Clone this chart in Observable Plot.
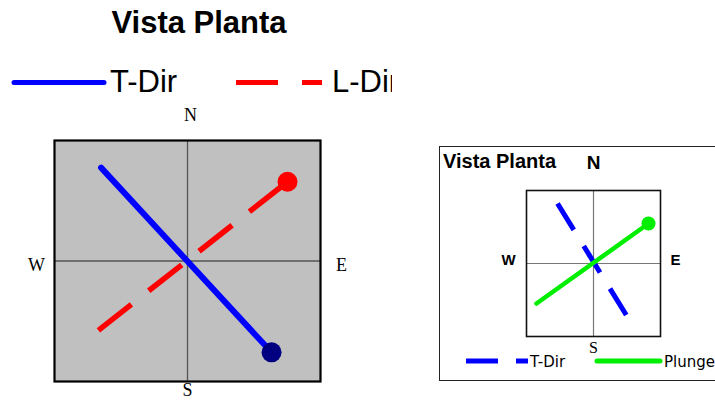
<!DOCTYPE html>
<html>
<head>
<meta charset="utf-8">
<script src="https://cdn.jsdelivr.net/npm/d3@7"></script>
<script src="https://cdn.jsdelivr.net/npm/@observablehq/plot@0.6"></script>
<style>
  html, body { margin: 0; padding: 0; background: #fff; }
  body { width: 715px; height: 400px; overflow: hidden; position: relative; font-family: "Liberation Sans", Arial, sans-serif; }
  .abs { position: absolute; }
  #insetBox { left: 439px; top: 146px; width: 300px; height: 235px; border: 1.5px solid #222; box-sizing: border-box; }
</style>
</head>
<body>
<svg id="leftHead" class="abs" style="left:0;top:0" width="400" height="100"></svg>
<div id="leftPlot" class="abs" style="left:0;top:100px"></div>
<div id="insetBox" class="abs"></div>
<svg id="insetHead" class="abs" style="left:0;top:0" width="715" height="400"></svg>
<div id="insetPlot" class="abs" style="left:480px;top:140px"></div>
<script>
// ---------- data ----------
const titleText = "Vista Planta";
const compassLabels = ["N", "S", "E", "W"];

// main plan view (unit axes: x = W..E, y = S..N)
const mainSeries = ["T-Dir", "L-Dir"];
const mainStartX = [-0.65, -0.67];
const mainStartY = [0.775, -0.575];
const mainEndX   = [0.632, 0.752];
const mainEndY   = [-0.758, 0.658];
const mainEndDot = [true, true];

// inset plan view
const insetSeries = ["T-Dir", "Plunge"];
const insetStartX = [-0.537, -0.851];
const insetStartY = [0.822, -0.548];
const insetEndX   = [0.493, 0.821];
const insetEndY   = [-0.712, 0.548];
const insetEndDot = [false, true];

// ---------- styles ----------
const mainStyle = {
  "T-Dir": {stroke: "#0000ff", dash: null, width: 6, cap: "round", dot: "#000080"},
  "L-Dir": {stroke: "#ff0000", dash: "42,22", width: 5.5, cap: "butt", dot: "#ff0000"}
};
const insetStyle = {
  "T-Dir": {stroke: "#0000ff", dash: "31,19", width: 5, cap: "butt", dot: "#0000ff"},
  "Plunge": {stroke: "#00ee00", dash: null, width: 4.5, cap: "round", dot: "#00ee00"}
};

const mainData = mainSeries.map((s, i) => ({s, x1: mainStartX[i], y1: mainStartY[i], x2: mainEndX[i], y2: mainEndY[i], dot: mainEndDot[i]}));
const insetData = insetSeries.map((s, i) => ({s, x1: insetStartX[i], y1: insetStartY[i], x2: insetEndX[i], y2: insetEndY[i], dot: insetEndDot[i]}));

function seriesMarks(data, style, r) {
  const marks = [];
  for (const d of data) {
    const st = style[d.s];
    marks.push(Plot.link([d], {x1: "x1", y1: "y1", x2: "x2", y2: "y2", stroke: st.stroke, strokeWidth: st.width,
      strokeDasharray: st.dash || undefined, strokeLinecap: st.cap}));
  }
  for (const d of data) {
    if (d.dot) marks.push(Plot.dot([d], {x: "x2", y: "y2", r, fill: style[d.s].dot, stroke: "none"}));
  }
  return marks;
}

function compassMarks(pos, fonts) {
  return compassLabels.map(l => Plot.text([l], {
    text: d => d, frameAnchor: pos[l].anchor, dx: pos[l].dx, dy: pos[l].dy,
    textAnchor: "middle", lineAnchor: "middle", fill: "#000", ...fonts[l]
  }));
}

// ---------- main plot ----------
const mainPos = {
  N: {anchor: "top", dx: 3, dy: -25},
  S: {anchor: "bottom", dx: 0, dy: 9},
  E: {anchor: "right", dx: 21, dy: 4},
  W: {anchor: "left", dx: -18, dy: 4}
};
const serif18 = {fontFamily: "Liberation Serif, serif", fontSize: 18};
const mainFonts = {N: serif18, S: serif18, E: serif18, W: serif18};
const mainPlot = Plot.plot({
  width: 360, height: 300,
  marginLeft: 54, marginRight: 40, marginTop: 40, marginBottom: 19,
  x: {domain: [-1, 1], axis: null},
  y: {domain: [-1, 1], axis: null},
  style: {background: "transparent", overflow: "visible"},
  marks: [
    Plot.frame({fill: "#c0c0c0", stroke: "none"}),
    Plot.ruleX([0], {stroke: "#555", strokeWidth: 1.3}),
    Plot.ruleY([0], {stroke: "#555", strokeWidth: 1.3}),
    Plot.frame({stroke: "#000", strokeWidth: 2.2}),
    ...seriesMarks(mainData, mainStyle, 10),
    ...compassMarks(mainPos, mainFonts)
  ]
});
document.getElementById("leftPlot").appendChild(mainPlot);

// ---------- inset plot ----------
const insetPos = {
  N: {anchor: "top", dx: 0, dy: -28},
  S: {anchor: "bottom", dx: 0, dy: 11.5},
  E: {anchor: "right", dx: 15, dy: -3},
  W: {anchor: "left", dx: -18, dy: -3}
};
const insetFonts = {
  N: {fontFamily: "Liberation Sans, Arial, sans-serif", fontSize: 19, fontWeight: "bold"},
  E: {fontFamily: "Liberation Sans, Arial, sans-serif", fontSize: 15, fontWeight: "bold"},
  W: {fontFamily: "Liberation Sans, Arial, sans-serif", fontSize: 15, fontWeight: "bold"},
  S: {fontFamily: "Liberation Serif, serif", fontSize: 16}
};
const insetPlot = Plot.plot({
  width: 230, height: 230,
  marginLeft: 46, marginRight: 50, marginTop: 50, marginBottom: 34,
  x: {domain: [-1, 1], axis: null},
  y: {domain: [-1, 1], axis: null},
  style: {background: "transparent", overflow: "visible"},
  marks: [
    Plot.ruleX([0], {stroke: "#777", strokeWidth: 1.2}),
    Plot.ruleY([0], {stroke: "#777", strokeWidth: 1.2}),
    Plot.frame({stroke: "#111", strokeWidth: 1.6}),
    ...seriesMarks(insetData, insetStyle, 7),
    ...compassMarks(insetPos, insetFonts)
  ]
});
document.getElementById("insetPlot").appendChild(insetPlot);

// ---------- titles & legends ----------
const head = d3.select("#leftHead");
head.append("text").attr("x", 199).attr("y", 33).attr("text-anchor", "middle")
  .attr("font-family", "Liberation Sans, Arial, sans-serif").attr("font-weight", "bold").attr("font-size", 31)
  .text(titleText);
head.append("clipPath").attr("id", "legClip").append("rect").attr("x", 0).attr("y", 0).attr("width", 392).attr("height", 100);
const leg = head.append("g").attr("clip-path", "url(#legClip)");
const mainLegendX = [14, 236];
mainSeries.forEach((s, i) => {
  const st = mainStyle[s];
  const x0 = mainLegendX[i];
  leg.append("line").attr("x1", x0).attr("x2", x0 + (st.dash ? 86 : 90)).attr("y1", 82.5).attr("y2", 82.5)
    .attr("stroke", st.stroke).attr("stroke-width", 5).attr("stroke-linecap", st.cap)
    .attr("stroke-dasharray", st.dash ? "42,24" : null);
  leg.append("text").attr("x", x0 + 96).attr("y", 92).attr("font-family", "Liberation Sans, Arial, sans-serif")
    .attr("font-size", 31).text(s);
});

const ih = d3.select("#insetHead");
ih.append("text").attr("x", 443).attr("y", 168)
  .attr("font-family", "Liberation Sans, Arial, sans-serif").attr("font-weight", "bold").attr("font-size", 20)
  .text(titleText);
const insetLegendX = [466, 597];
const insetLegendLen = [62, 63];
insetSeries.forEach((s, i) => {
  const st = insetStyle[s];
  const x0 = insetLegendX[i];
  ih.append("line").attr("x1", x0).attr("x2", x0 + insetLegendLen[i]).attr("y1", 361).attr("y2", 361)
    .attr("stroke", st.stroke).attr("stroke-width", 5).attr("stroke-linecap", st.cap)
    .attr("stroke-dasharray", st.dash ? "32,18" : null);
  ih.append("text").attr("x", x0 + insetLegendLen[i] + (st.dash ? 2 : 4)).attr("y", 367)
    .attr("font-family", "DejaVu Sans, sans-serif").attr("font-size", 15).text(s);
});
</script>
</body>
</html>
